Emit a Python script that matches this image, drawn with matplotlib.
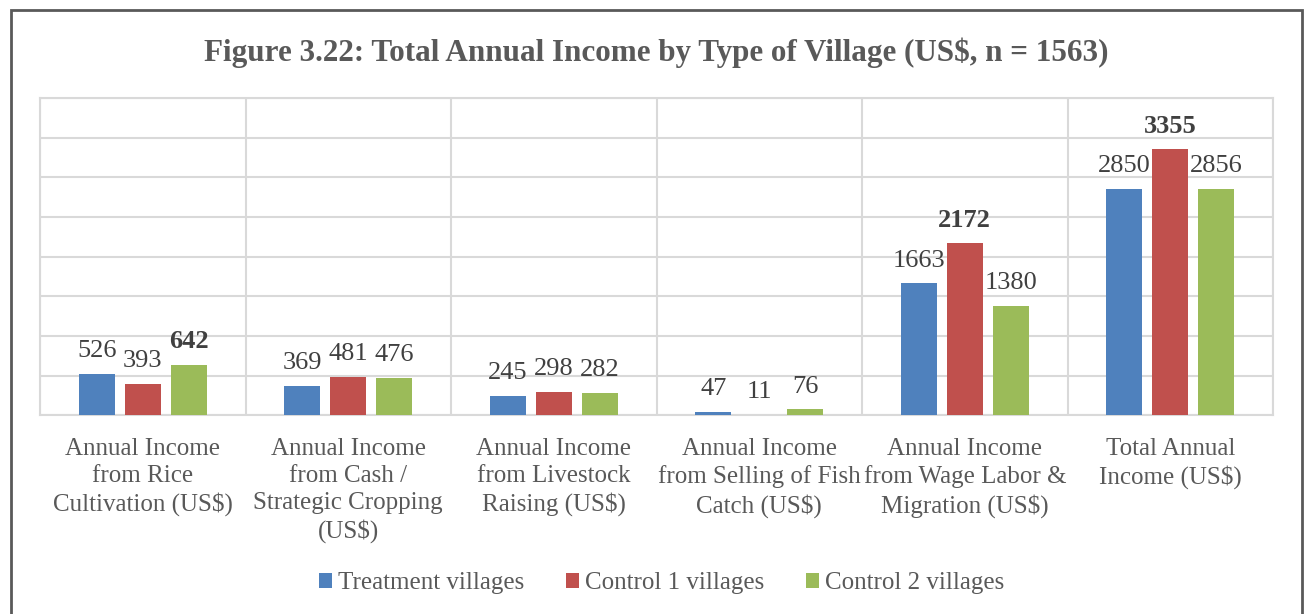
import matplotlib
matplotlib.use('Agg')
import matplotlib.pyplot as plt
import numpy as np
from matplotlib.patches import Rectangle

# chart data
categories = [
    'Annual Income\nfrom Rice\nCultivation (US$)',
    'Annual Income\nfrom Cash /\nStrategic Cropping\n(US$)',
    'Annual Income\nfrom Livestock\nRaising (US$)',
    'Annual Income\nfrom Selling of Fish\nCatch (US$)',
    'Annual Income\nfrom Wage Labor &\nMigration (US$)',
    'Total Annual\nIncome (US$)',
]
series_names = ['Treatment villages', 'Control 1 villages', 'Control 2 villages']
treatment = [526, 369, 245, 47, 1663, 2850]
control1 = [393, 481, 298, 11, 2172, 3355]
control2 = [642, 476, 282, 76, 1380, 2856]
# labels printed in bold in the original
bold_labels = [(0, 2), (4, 1), (5, 1)]

colors = ['#4F81BD', '#C0504D', '#9BBB59']
grid_col = '#D9D9D9'
text_col = '#404040'
title_col = '#595959'
font = 'Liberation Serif'

plt.rcParams['font.family'] = [font, 'DejaVu Serif']

fig = plt.figure(figsize=(13.05, 6.14), dpi=100)
ax = fig.add_axes([0.0307, 0.3233, 0.9448, 0.5171])

x = np.arange(len(categories))
width = 0.175
step = 0.224
all_series = [treatment, control1, control2]

for i, (vals, col, name) in enumerate(zip(all_series, colors, series_names)):
    pos = x + (i - 1) * step
    bars = ax.bar(pos, vals, width, color=col, label=name, zorder=3)
    for j, (p, v) in enumerate(zip(pos, vals)):
        weight = 'bold' if (j, i) in bold_labels else 'normal'
        ax.annotate(str(v), (p, v), xytext=(0, 16.5), textcoords='offset points',
                    ha='center', va='center', fontsize=19, color=text_col,
                    fontweight=weight)

ax.set_ylim(0, 4000)
ax.set_xlim(-0.5, len(categories) - 0.5)
ax.set_yticks(np.arange(0, 4001, 500))
ax.set_yticklabels([])
ax.set_xticks(x)
ax.set_xticklabels(categories, fontsize=18, color=title_col, linespacing=1.3)
ax.set_xticks(np.arange(-0.5, len(categories), 1), minor=True)
ax.tick_params(axis='both', which='both', length=0)
ax.tick_params(axis='x', pad=16)
ax.grid(axis='y', color=grid_col, linewidth=1.5, zorder=0)
ax.grid(axis='x', which='minor', color=grid_col, linewidth=1.5, zorder=0)
for s in ax.spines.values():
    s.set_color(grid_col)
    s.set_linewidth(1.5)

fig.text(0.503, 0.914, 'Figure 3.22: Total Annual Income by Type of Village (US$, n = 1563)',
         ha='center', va='center', fontsize=22.4, fontweight='bold', color=title_col)

fig.legend(loc='center', bbox_to_anchor=(0.507, 0.05), ncol=3, frameon=False,
           fontsize=18, handlelength=0.5, handleheight=0.5, handletextpad=0.25,
           columnspacing=1.68, labelcolor=title_col)

# outer frame around the whole chart
fig.patches.append(Rectangle((0.0084, -0.05), 0.9893, 1.034, transform=fig.transFigure,
                             fill=False, edgecolor='#595959', linewidth=2))

fig.savefig('out.png', dpi=100)
